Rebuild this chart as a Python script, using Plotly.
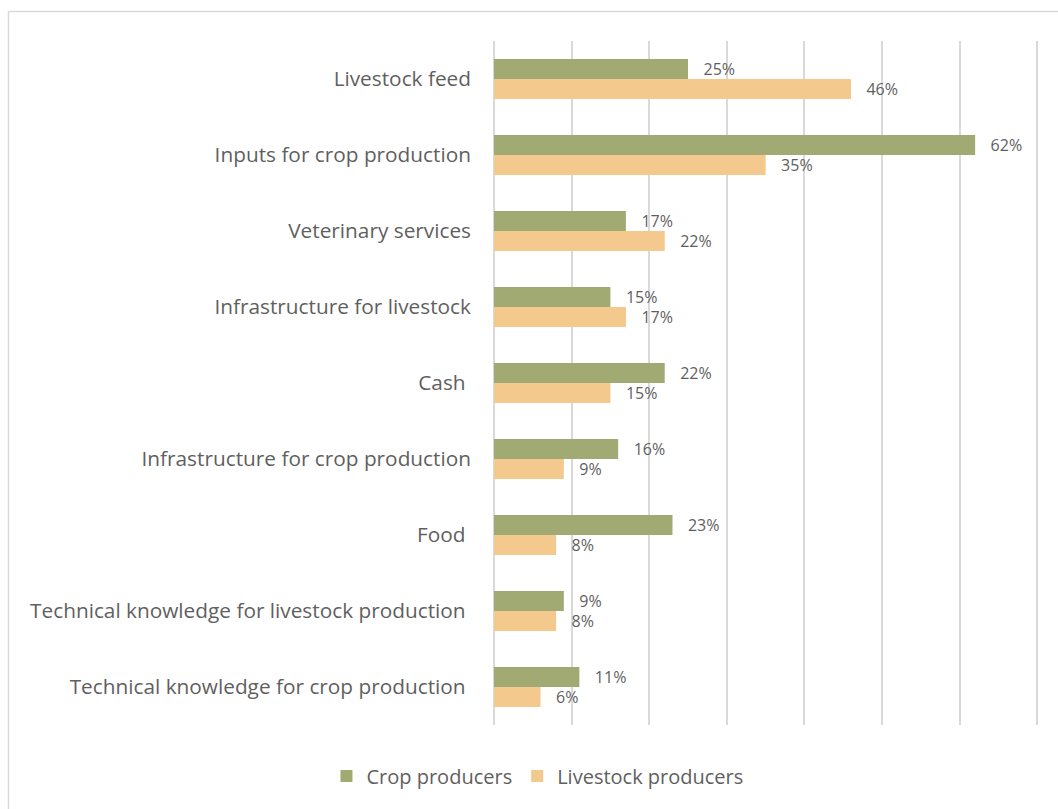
import plotly.graph_objects as go

categories = [
    "Livestock feed",
    "Inputs for crop production",
    "Veterinary services",
    "Infrastructure for livestock",
    "Cash\u00a0",
    "Infrastructure for crop production",
    "Food\u00a0",
    "Technical knowledge for livestock production\u00a0",
    "Technical knowledge for crop production\u00a0",
]
crop_producers = [25, 62, 17, 15, 22, 16, 23, 9, 11]
livestock_producers = [46, 35, 22, 17, 15, 9, 8, 8, 6]

GREEN = "#A2AA74"
ORANGE = "#F3C98D"
TEXT = "#5F5F5F"
GRID = "#D9D9D9"
FONT = "Open Sans"

W, H = 1058, 809
L, R, T, B = 494, 13, 41, H - 725

fig = go.Figure()
for name, vals, col in [
    ("Crop producers", crop_producers, GREEN),
    ("Livestock producers", livestock_producers, ORANGE),
]:
    fig.add_trace(go.Bar(
        y=categories, x=vals, name=name, orientation="h",
        marker=dict(color=col, line=dict(width=0)),
        text=vals,
        texttemplate="\u00a0\u00a0\u00a0%{x}%",
        textposition="outside",
        constraintext="none",
        cliponaxis=False,
        textfont=dict(family=FONT, size=16, color=TEXT),
    ))

pw = W - L - R
ph = H - T - B
bx = (8.5 - L) / pw
by = (H - B - 11.5) / ph

fig.update_layout(
    width=W, height=H,
    margin=dict(l=L, r=R, t=T, b=B, pad=0),
    paper_bgcolor="white", plot_bgcolor="white",
    barmode="group", bargap=0.474, bargroupgap=0,
    font=dict(family=FONT, color=TEXT),
    xaxis=dict(range=[0, 71], dtick=10, showticklabels=False,
               showgrid=True, gridcolor=GRID, gridwidth=2,
               zeroline=True, zerolinecolor=GRID, zerolinewidth=2,
               showline=False, fixedrange=True),
    yaxis=dict(categoryorder="array", categoryarray=categories,
               autorange="reversed", showgrid=False, showline=False,
               ticks="", ticklabelstandoff=22,
               tickfont=dict(family=FONT, size=20.8, color=TEXT)),
    legend=dict(orientation="h", xref="container", yref="container",
                x=0.508, y=1 - 776 / H, xanchor="center", yanchor="middle",
                font=dict(family=FONT, size=20, color=TEXT),
                itemwidth=30, traceorder="normal"),
    showlegend=True,
    shapes=[
        dict(type="line", xref="paper", yref="paper",
             x0=bx, x1=1.2, y0=by, y1=by,
             line=dict(color=GRID, width=1.5)),
        dict(type="line", xref="paper", yref="paper",
             x0=bx, x1=bx, y0=by, y1=-0.2,
             line=dict(color=GRID, width=1.5)),
    ],
)

fig.write_html("out.html")
